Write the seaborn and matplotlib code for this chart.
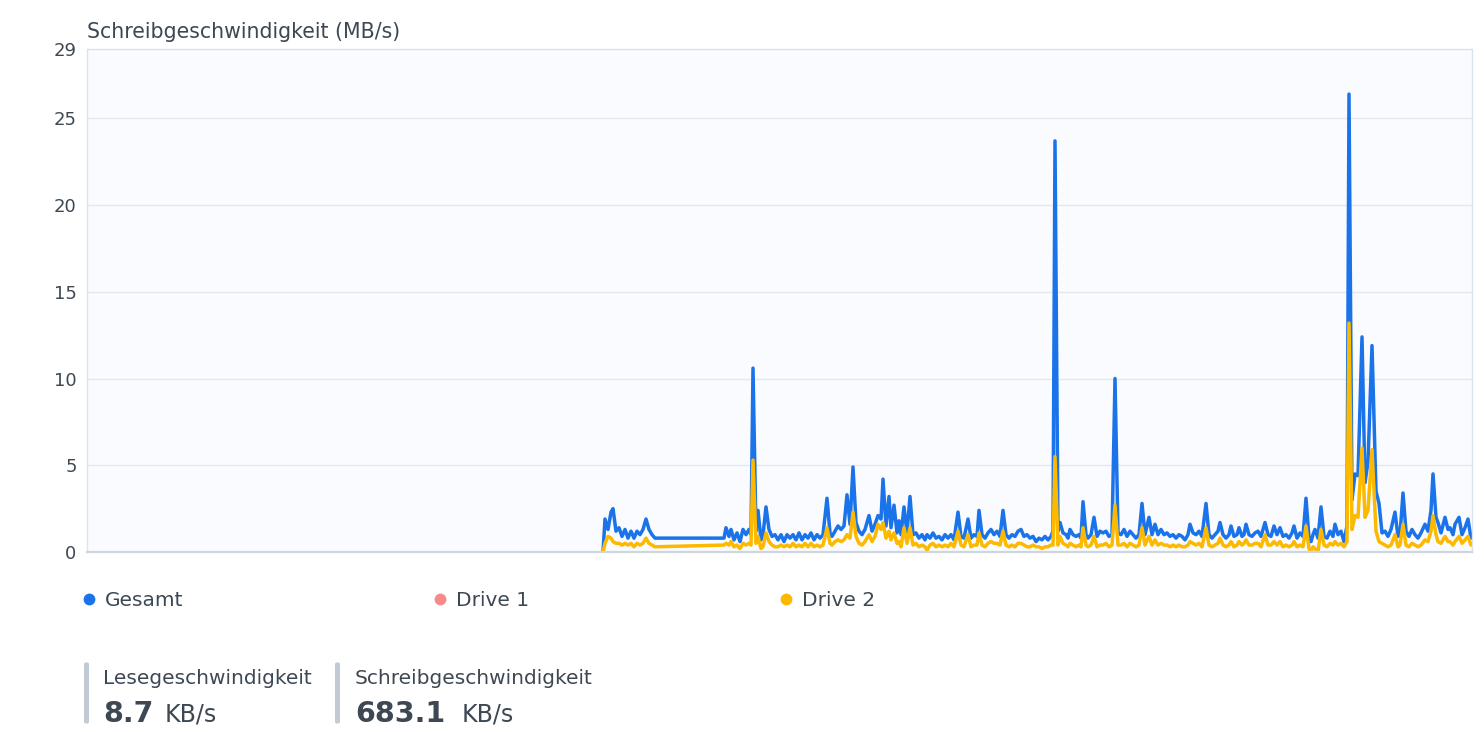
import pandas as pd
import matplotlib.pyplot as plt
import seaborn as sns
from matplotlib.lines import Line2D
from matplotlib.patches import FancyBboxPatch

# time axis in minutes (window of the chart: 0 .. 1385)
minuten = [
    516, 518, 521, 524, 526, 529, 532, 535, 538, 541,
    544, 547, 550, 553, 556, 559, 562, 565, 568,
    637, 639, 642, 644, 647, 650, 653, 656, 659, 662,
    664, 666, 669, 671, 674, 676, 679, 682, 685, 688,
    691, 694, 697, 700, 703, 706, 709, 712, 715, 718,
    721, 724, 727, 730, 733, 736, 740, 743, 745, 748,
    751, 754, 757, 760, 763, 766, 769, 772, 775, 778,
    782, 785, 788, 791, 794, 796, 799, 802, 804, 807,
    810, 812, 814, 817, 820, 823, 826, 829, 832, 835,
    838, 840, 843, 846, 849, 852, 855, 858, 861, 864,
    867, 871, 874, 877, 881, 884, 887, 890, 892, 895,
    898, 901, 904, 907, 910, 913, 916, 919, 922, 925,
    928, 931, 934, 937, 940, 943, 946, 949, 952, 955,
    958, 961, 964, 966, 968, 971, 973, 976, 979, 981,
    983, 986, 989, 992, 994, 996, 999, 1001, 1004, 1007,
    1010, 1013, 1016, 1019, 1022, 1025, 1028, 1031, 1034, 1037,
    1040, 1043, 1046, 1049, 1052, 1055, 1058, 1062, 1065, 1068,
    1071, 1074, 1077, 1080, 1083, 1086, 1089, 1092, 1095, 1098,
    1101, 1103, 1106, 1109, 1112, 1115, 1119, 1122, 1125, 1128,
    1131, 1133, 1136, 1139, 1142, 1144, 1147, 1150, 1152, 1155,
    1157, 1159, 1162, 1165, 1168, 1171, 1174, 1178, 1181, 1184,
    1187, 1190, 1193, 1196, 1199, 1202, 1205, 1207, 1210, 1213,
    1216, 1219, 1222, 1224, 1226, 1228, 1231, 1234, 1237, 1240,
    1243, 1246, 1248, 1251, 1254, 1257, 1260, 1262, 1265, 1268,
    1271, 1275, 1278, 1281, 1285, 1289, 1292, 1295, 1298, 1301,
    1304, 1308, 1311, 1313, 1316, 1319, 1322, 1325, 1328, 1331,
    1334, 1338, 1341, 1344, 1346, 1349, 1351, 1354, 1358, 1361,
    1363, 1366, 1368, 1372, 1375, 1378, 1381, 1384,
]

gesamt = [
    0.0, 1.9, 1.3, 2.3, 2.5, 1.2, 1.4, 0.9, 1.3, 0.8,
    1.2, 0.8, 1.2, 1.0, 1.3, 1.9, 1.3, 1.0, 0.8,
    0.8, 1.4, 0.9, 1.3, 0.7, 1.1, 0.6, 1.3, 1.0, 1.3,
    1.0, 10.6, 1.2, 2.4, 0.7, 1.0, 2.6, 1.3, 0.9, 1.0,
    0.7, 1.0, 0.6, 1.0, 0.8, 1.0, 0.7, 1.1, 0.7, 1.0,
    0.8, 1.1, 0.7, 1.0, 0.8, 1.0, 3.1, 1.1, 0.9, 1.2,
    1.5, 1.3, 1.5, 3.3, 1.6, 4.9, 1.7, 1.2, 1.0, 1.3,
    2.1, 1.2, 1.6, 2.1, 1.9, 4.2, 1.5, 3.2, 1.4, 2.7,
    1.1, 1.8, 1.0, 2.6, 1.1, 3.2, 1.0, 1.1, 0.8, 1.0,
    0.7, 1.0, 0.8, 1.1, 0.8, 0.9, 0.7, 1.0, 0.8, 1.0,
    0.7, 2.3, 0.9, 0.8, 1.9, 0.8, 1.0, 0.9, 2.4, 1.0,
    0.8, 1.1, 1.3, 1.0, 1.2, 0.9, 2.4, 1.0, 0.8, 1.0,
    0.9, 1.2, 1.3, 0.9, 1.0, 0.8, 0.9, 0.6, 0.8, 0.7,
    0.9, 0.7, 0.9, 1.2, 23.7, 1.2, 1.7, 1.1, 1.0, 0.8,
    1.3, 1.0, 0.9, 1.0, 0.8, 2.9, 1.0, 0.8, 1.0, 2.0,
    0.9, 1.2, 1.1, 1.2, 0.9, 1.0, 10.0, 1.1, 1.0, 1.3,
    0.9, 1.2, 1.0, 0.8, 1.0, 2.8, 1.0, 2.0, 1.0, 1.6,
    1.0, 1.3, 1.0, 1.1, 0.9, 1.0, 0.8, 1.0, 0.9, 0.7,
    1.0, 1.6, 1.1, 1.0, 1.2, 0.9, 2.8, 1.0, 0.8, 1.0,
    1.2, 1.7, 1.0, 0.8, 1.0, 1.5, 0.9, 1.0, 1.4, 0.9,
    1.0, 1.6, 1.0, 0.9, 1.1, 1.2, 0.9, 1.7, 1.0, 0.9,
    1.5, 1.0, 1.4, 0.9, 1.0, 0.8, 1.1, 1.5, 0.8, 1.1,
    0.9, 3.1, 0.8, 0.6, 1.0, 1.3, 0.8, 2.6, 0.9, 0.8,
    1.2, 0.9, 1.6, 1.0, 1.2, 0.6, 1.5, 26.4, 3.0, 4.5,
    4.4, 12.4, 4.0, 5.2, 11.9, 3.5, 2.8, 1.1, 1.2, 0.9,
    1.3, 2.3, 0.9, 1.0, 3.4, 1.2, 0.9, 1.3, 1.0, 0.8,
    1.1, 1.6, 1.2, 2.4, 4.5, 2.0, 1.7, 1.1, 2.0, 1.3,
    1.4, 1.0, 1.6, 2.0, 1.0, 1.4, 1.9, 0.8,
]

drive_2 = [
    0.0, 0.5, 0.9, 0.8, 0.6, 0.5, 0.5, 0.4, 0.5, 0.4,
    0.5, 0.3, 0.5, 0.4, 0.5, 0.8, 0.5, 0.4, 0.3,
    0.4, 0.5, 0.4, 0.6, 0.3, 0.4, 0.2, 0.5, 0.4, 0.5,
    0.4, 5.3, 0.5, 0.9, 0.2, 0.3, 1.1, 0.6, 0.4, 0.3,
    0.3, 0.4, 0.3, 0.4, 0.3, 0.5, 0.3, 0.4, 0.3, 0.5,
    0.3, 0.5, 0.3, 0.4, 0.3, 0.4, 1.4, 0.5, 0.4, 0.6,
    0.7, 0.6, 0.7, 1.0, 0.8, 2.3, 0.9, 0.5, 0.4, 0.6,
    1.0, 0.6, 0.9, 1.6, 1.3, 1.7, 0.8, 1.2, 0.7, 1.1,
    0.5, 0.6, 0.3, 1.4, 0.5, 1.4, 0.4, 0.5, 0.3, 0.4,
    0.3, 0.1, 0.4, 0.5, 0.3, 0.4, 0.3, 0.4, 0.3, 0.5,
    0.3, 1.2, 0.4, 0.3, 1.0, 0.3, 0.4, 0.4, 1.1, 0.4,
    0.3, 0.5, 0.6, 0.5, 0.5, 0.4, 1.2, 0.4, 0.3, 0.4,
    0.3, 0.5, 0.5, 0.4, 0.3, 0.3, 0.4, 0.3, 0.3, 0.2,
    0.3, 0.3, 0.4, 0.4, 5.5, 0.4, 0.9, 0.5, 0.4, 0.3,
    0.5, 0.4, 0.3, 0.4, 0.3, 1.4, 0.4, 0.3, 0.4, 0.9,
    0.3, 0.4, 0.4, 0.5, 0.3, 0.4, 2.7, 0.4, 0.4, 0.5,
    0.3, 0.5, 0.4, 0.3, 0.4, 1.4, 0.4, 0.9, 0.4, 0.7,
    0.4, 0.5, 0.4, 0.4, 0.3, 0.4, 0.3, 0.4, 0.3, 0.3,
    0.4, 0.6, 0.5, 0.4, 0.5, 0.3, 1.4, 0.4, 0.3, 0.4,
    0.5, 0.8, 0.4, 0.3, 0.4, 0.6, 0.3, 0.4, 0.6, 0.4,
    0.5, 0.7, 0.4, 0.4, 0.5, 0.5, 0.3, 1.0, 0.4, 0.4,
    0.6, 0.4, 0.6, 0.3, 0.4, 0.3, 0.4, 0.6, 0.3, 0.4,
    0.3, 1.5, 0.2, 0.0, 0.3, 0.2, 0.0, 1.3, 0.4, 0.3,
    0.5, 0.4, 0.6, 0.4, 0.5, 0.3, 0.6, 13.2, 1.3, 2.1,
    2.0, 6.0, 2.0, 2.4, 5.9, 1.2, 0.6, 0.5, 0.4, 0.3,
    0.4, 1.0, 0.3, 0.4, 1.6, 0.4, 0.3, 0.5, 0.4, 0.3,
    0.4, 0.7, 0.6, 1.2, 2.1, 1.0, 0.6, 0.5, 0.9, 0.6,
    0.6, 0.4, 0.6, 0.9, 0.5, 0.7, 0.9, 0.4,
]

series_names = ["Gesamt", "Drive 1", "Drive 2"]
series_colors = {"Gesamt": "#1a73e8", "Drive 1": "#f78a8a", "Drive 2": "#fcb900"}
y_ticks = [0, 5, 10, 15, 20, 25, 29]
y_title = "Schreibgeschwindigkeit (MB/s)"
stat_labels = ["Lesegeschwindigkeit", "Schreibgeschwindigkeit"]
stat_values = ["8.7", "683.1"]
stat_units = ["KB/s", "KB/s"]

TEXT = "#3d4853"

sns.set_style("white")
plt.rcParams["font.family"] = ["DejaVu Sans"]

n = len(minuten)
df = pd.DataFrame({
    "Minute": minuten * 2,
    "MB/s": gesamt + drive_2,
    "Laufwerk": ["Gesamt"] * n + ["Drive 2"] * n,
})

fig = plt.figure(figsize=(14.84, 7.32), dpi=100)
ax = fig.add_axes([87 / 1484, 180 / 732, 1385 / 1484, 503 / 732])
ax.set_facecolor("#f9fbfe")

sns.lineplot(
    data=df, x="Minute", y="MB/s", hue="Laufwerk",
    hue_order=["Gesamt", "Drive 2"], palette=series_colors,
    estimator=None, linewidth=2.5, legend=False, ax=ax,
)

ax.set_xlim(0, 1385)
ax.set_ylim(0, 29)
ax.set_yticks(y_ticks)
ax.set_xticks([])
ax.set_xlabel("")
ax.set_ylabel("")
ax.yaxis.grid(True, color="#e3e8f0", lw=1)
ax.set_axisbelow(True)
ax.tick_params(axis="y", length=0, pad=7.5, labelsize=13, labelcolor=TEXT)
for side in ["left", "top", "right"]:
    ax.spines[side].set_color("#dbe3ee")
    ax.spines[side].set_linewidth(1)
ax.spines["bottom"].set_color("#cdd5df")
ax.spines["bottom"].set_linewidth(1.6)

fig.text(87 / 1484, 1 - 32 / 732, y_title, ha="left", va="center",
         fontsize=14.8, color=TEXT)

# legend with dot markers
handles = [
    Line2D([], [], marker="o", linestyle="", markersize=8.5,
           markerfacecolor=series_colors[s], markeredgewidth=0)
    for s in series_names
]
fig.legend(
    handles, series_names, loc="center left",
    bbox_to_anchor=(83.5 / 1484, 1 - 601 / 732), ncol=3, frameon=False,
    fontsize=14.5, labelcolor=TEXT, handlelength=0.55, handletextpad=0.5,
    columnspacing=12.5, borderpad=0, borderaxespad=0,
)

# summary blocks below the legend
bar_x = [84, 335]
text_x = [103, 355]
unit_x = [165, 462]
for bx, tx, ux, lab, val, unit in zip(bar_x, text_x, unit_x, stat_labels,
                                      stat_values, stat_units):
    fig.patches.append(FancyBboxPatch(
        (bx / 1484, 1 - 724 / 732), 5 / 1484, 62 / 732,
        boxstyle="round,pad=0,rounding_size=0.003",
        transform=fig.transFigure, facecolor="#c2cad3", edgecolor="none",
    ))
    fig.text(tx / 1484, 1 - 678 / 732, lab, ha="left", va="center",
             fontsize=14.5, color=TEXT)
    fig.text(tx / 1484, 1 - 722 / 732, val, ha="left", va="baseline",
             fontsize=20.5, fontweight="bold", color=TEXT)
    fig.text(ux / 1484, 1 - 722 / 732, unit, ha="left", va="baseline",
             fontsize=17, color=TEXT)

fig.savefig("out.png", dpi=100, facecolor="white")
